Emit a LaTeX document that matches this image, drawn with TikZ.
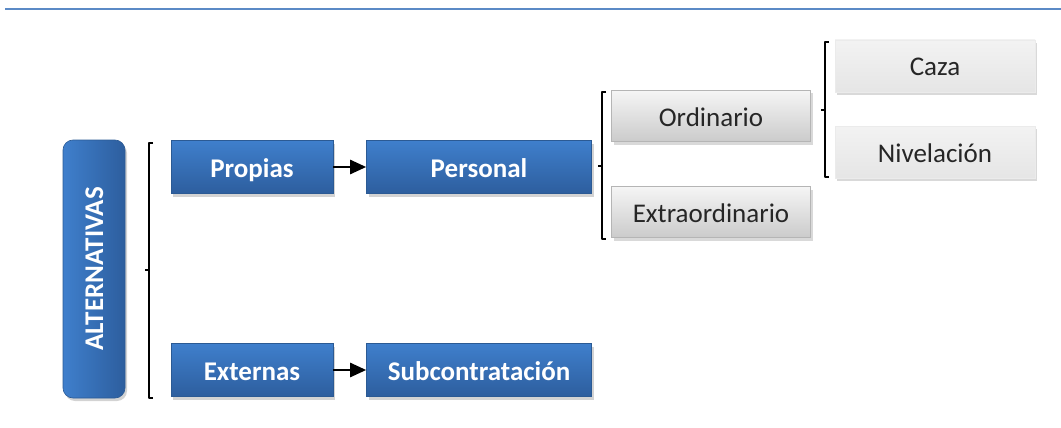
\documentclass[tikz,border=0pt]{standalone}
\usepackage{fontspec}
\setmainfont{Carlito}
\usetikzlibrary{shadows,arrows.meta}
\definecolor{bluetop}{HTML}{3F7FCC}
\definecolor{bluebot}{HTML}{2D5E9E}
\definecolor{blueline}{HTML}{2B5A94}
\definecolor{graytop}{HTML}{F5F5F5}
\definecolor{graybot}{HTML}{CBCBCB}
\definecolor{grayline}{HTML}{B5B5B5}
\definecolor{topline}{HTML}{5B8AC6}
\tikzset{
  x=1pt, y=-1pt,
  txt/.style={font=\fontsize{27}{32}\selectfont, text height=20pt, text depth=0pt},
  bluebase/.style={draw=blueline, line width=0.6pt,
    text=white, font=\fontsize{27}{32}\selectfont\bfseries, text height=20pt, text depth=0pt,
    inner sep=0pt, minimum height=53pt,
    drop shadow={opacity=0.35, shadow xshift=2pt, shadow yshift=-3pt}},
  bluebox/.style={bluebase, top color=bluetop, bottom color=bluebot},
  graybox/.style={txt, draw=grayline, line width=0.6pt, top color=graytop, bottom color=graybot,
    text=black!85, inner sep=0pt, minimum width=199pt, minimum height=51pt,
    drop shadow={opacity=0.3, shadow xshift=2pt, shadow yshift=-3pt}},
  lightbox/.style={txt, draw=black!8, line width=0.4pt, top color=white!95!black, bottom color=white!90!black,
    text=black!85, inner sep=0pt, minimum width=200pt, minimum height=52pt,
    drop shadow={opacity=0.3, shadow xshift=2pt, shadow yshift=-3pt}},
  brace/.style={draw=black, line width=1.1pt, line join=round},
  arr/.style={draw=black, line width=2.5pt, -{Triangle[length=16pt,width=14pt]}}
}
\begin{document}
\begin{tikzpicture}
\useasboundingbox (0,0) rectangle (1061,428);
\draw[topline, line width=2.2pt] (5,9) -- (1061,9);

% main vertical box
\node[bluebase, rounded corners=10pt, minimum width=62pt, minimum height=258pt,
      left color=bluetop, right color=bluebot] (alt) at (94,269) {};
\node[rotate=90, text=white, font=\fontsize{27}{32}\selectfont\bfseries, inner sep=0pt,
      text height=18pt, text depth=0pt] (altlabel) at (alt.center) {ALTERNATIVAS};

% first brace
\draw[brace] (153,143) -- (149,143) -- (149,398) -- (153,398);
\draw[brace] (149,270) -- (145,270);

\node[bluebox, minimum width=162pt] (propias) at (252,167) {Propias};
\node[bluebox, minimum width=225pt] (personal) at (479,167) {Personal};
\node[bluebox, minimum width=162pt] (externas) at (252,370) {Externas};
\node[bluebox, minimum width=225pt] (subc) at (479,370) {Subcontratación};
\draw[arr] (propias) -- (personal);
\draw[arr] (externas) -- (subc);

% second brace
\draw[brace] (606,92) -- (602,92) -- (602,239) -- (606,239);
\draw[brace] (602,166) -- (598,166);

\node[graybox] (ord) at (711,116) {Ordinario};
\node[graybox] (extra) at (711,212) {Extraordinario};

% third brace
\draw[brace] (829,42) -- (825,42) -- (825,177) -- (829,177);
\draw[brace] (825,110) -- (821,110);

\node[lightbox] (caza) at (935,66) {Caza};
\node[lightbox] (niv) at (935,152) {Nivelación};
\end{tikzpicture}
\end{document}
